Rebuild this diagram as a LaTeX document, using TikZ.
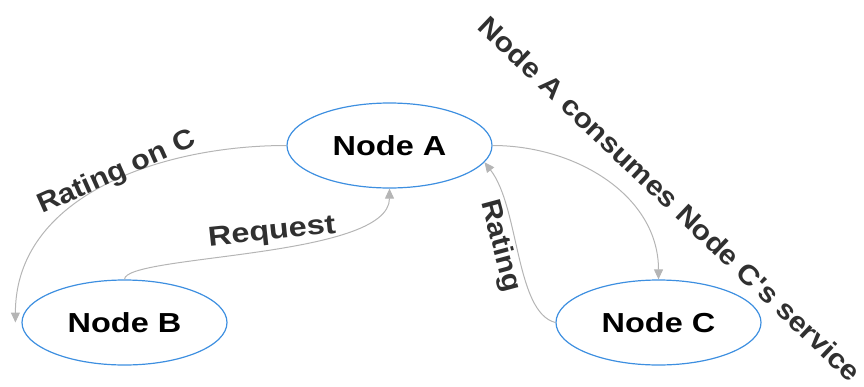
\documentclass[tikz,border=0pt]{standalone}
\usepackage{fontspec}
\setmainfont{Liberation Sans}
\newfontfamily\nodefont[FakeStretch=1.18]{Liberation Sans Bold}
\newfontfamily\tiltfont[FakeStretch=1.1]{Liberation Sans Bold}
\usetikzlibrary{shapes.geometric,arrows.meta}
\definecolor{ringblue}{HTML}{3D8FE0}
\definecolor{edgegray}{HTML}{B5B5B5}
\definecolor{labelgray}{HTML}{303030}
\begin{document}
\begin{tikzpicture}[x=1pt,y=1pt]

\tikzstyle{vertex}=[shape=ellipse, draw=ringblue, line width=1.2pt,
    minimum width=205pt, minimum height=85pt, inner sep=0pt,
    font=\nodefont\fontsize{27.5}{33}\selectfont]
\tikzstyle{link}=[draw=edgegray, line width=1pt,
    -{Triangle[length=10pt,width=9pt]}, edgegray]
\tikzstyle{tag}=[text=labelgray, inner sep=0pt,
    font=\tiltfont\fontsize{27.5}{33}\selectfont]

  \useasboundingbox (0,0) rectangle (864,-386);

  \node[vertex] (a) at (389.5,-145.5) {Node A};
  \node[vertex] (b) at (124.5,-322.5) {Node B};
  \node[vertex] (c) at (658.5,-322.5) {Node C};

  \draw[link] (a.west) to[out=180,in=90] ([xshift=-6pt]b.west);
  \draw[link] (b.north) .. controls +(0,25) and +(0,-70) .. (a.south);
  \draw[link] (a.east) to[out=0,in=90] (c.north);
  \draw[link] (c.west) .. controls +(-40,10) and +(35,-45) .. (a.-10);

  % labels
  \node[tag, rotate=24] (ratingc) at (117,-173) {Rating on C};
  \node[tag, rotate=6, font=\nodefont\fontsize{27.5}{33}\selectfont] (request) at (272,-233) {Request};
  \node[tag, rotate=-75] (rating) at (500,-246) {Rating};
  \node[tag, rotate=-43.5] (consumes) at (670,-199) {Node A consumes Node C's service};

\end{tikzpicture}
\end{document}
